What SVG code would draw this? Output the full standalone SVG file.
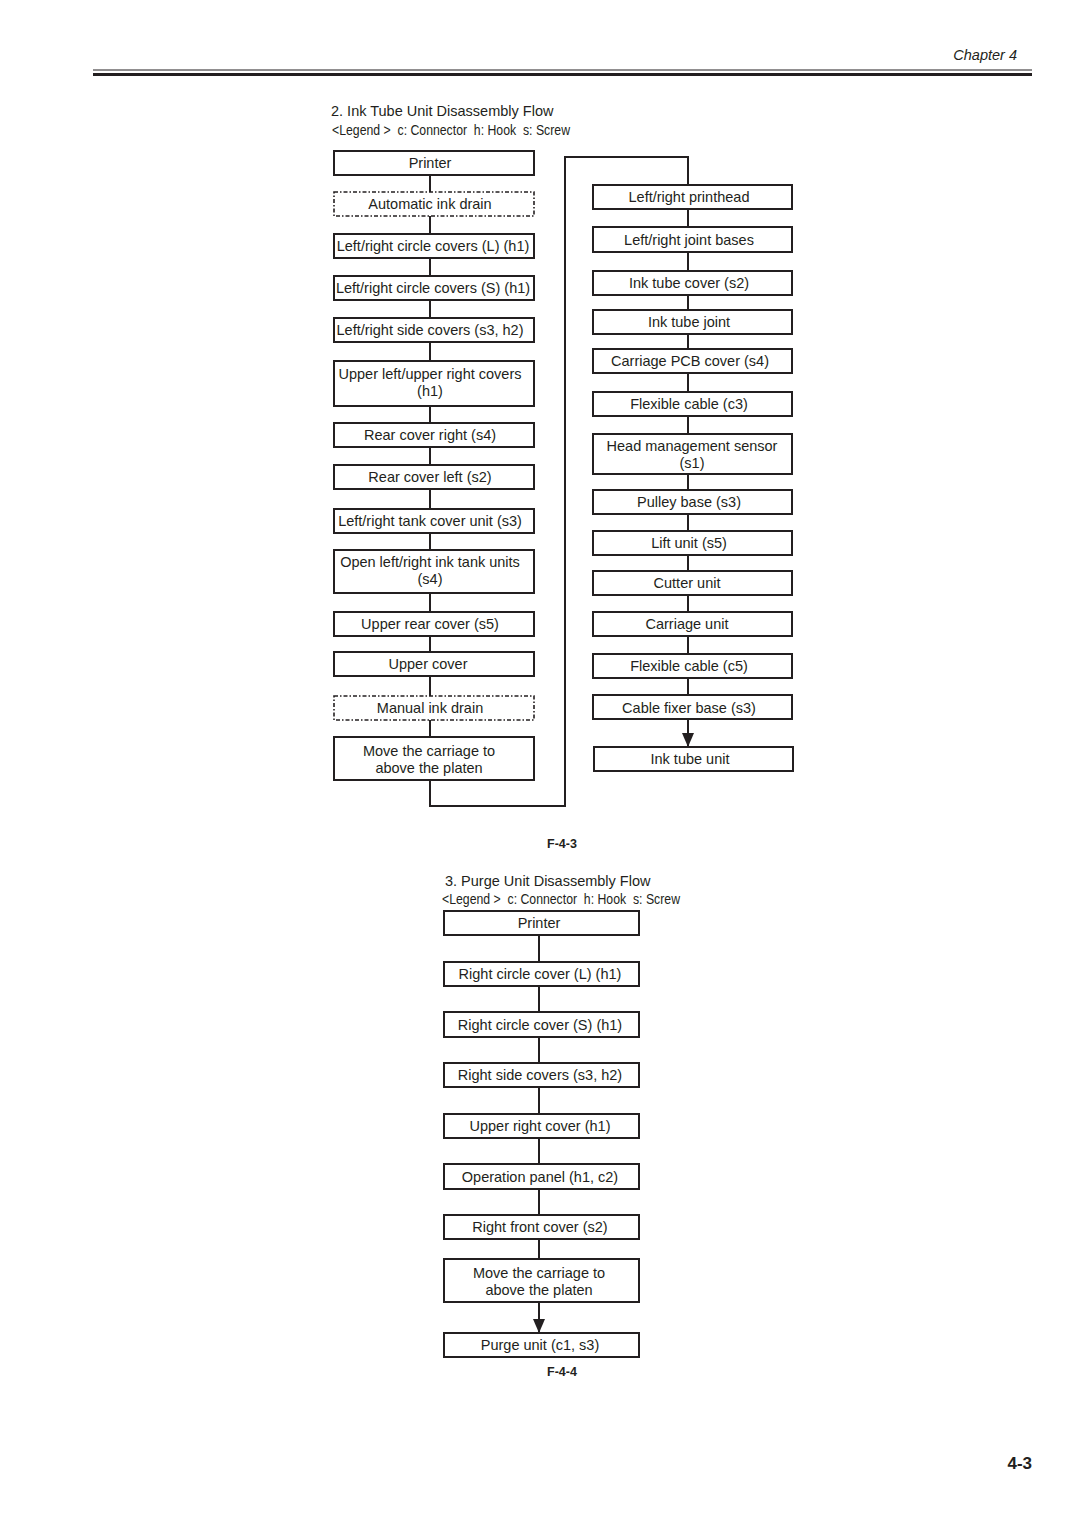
<svg xmlns="http://www.w3.org/2000/svg" width="1080" height="1528" viewBox="0 0 1080 1528">
<style>
text{font-family:"Liberation Sans",Arial,sans-serif;fill:#231f20}
.t{font-size:14.5px;text-anchor:middle}
.b{fill:#fff;stroke:#231f20;stroke-width:2}
.d{fill:#fff;stroke:#231f20;stroke-width:1.6;stroke-dasharray:4 2 1.5 2}
.c{fill:none;stroke:#231f20;stroke-width:2}
.lg{font-size:14px}
</style>
<defs>
<marker id="ah" markerWidth="14" markerHeight="12" refX="14" refY="6" orient="auto" markerUnits="userSpaceOnUse" viewBox="0 0 14 12">
<path d="M0,0 L14,6 L0,12 Z" fill="#231f20"/>
</marker>
</defs>
<rect width="1080" height="1528" fill="#fff"/>
<text x="1017" y="60" font-size="14.5" font-style="italic" text-anchor="end">Chapter 4</text>
<line x1="93" y1="70" x2="1032" y2="70" stroke="#231f20" stroke-width="1"/>
<line x1="93" y1="74.5" x2="1032" y2="74.5" stroke="#231f20" stroke-width="3"/>

<text x="331" y="116" font-size="14.5">2. Ink Tube Unit Disassembly Flow</text>
<text x="332" y="135" class="lg" xml:space="preserve" textLength="238" lengthAdjust="spacingAndGlyphs">&lt;Legend &gt;  c: Connector  h: Hook  s: Screw</text>

<g id="connectors">
<path class="c" d="M430,175 V192 M430,216 V234 M430,258 V276 M430,300 V318 M430,342 V361 M430,406 V423 M430,447 V465 M430,489 V509 M430,533 V550 M430,593 V612 M430,636 V652 M430,676 V696 M430,720 V737"/>
<path class="c" d="M430,780 V806 H565 V157 H688 V185"/>
<path class="c" d="M688,209 V227 M688,252 V271 M688,295 V310 M688,334 V349 M688,373 V392 M688,416 V434 M688,474 V490 M688,514 V531 M688,555 V571 M688,595 V612 M688,636 V654 M688,678 V695"/>
<path class="c" d="M688,719 V747" marker-end="url(#ah)"/>
<path class="c" d="M539,935 V962 M539,986 V1012 M539,1037 V1063 M539,1087 V1114 M539,1138 V1164 M539,1189 V1215 M539,1239 V1259"/>
<path class="c" d="M539,1302 V1333" marker-end="url(#ah)"/>
</g>

<g id="n1"><rect class="b" x="334" y="151" width="200" height="24"/><text class="t" x="430" y="168">Printer</text></g>
<g id="n2"><rect class="d" x="334" y="192" width="200" height="24"/><text class="t" x="430" y="209">Automatic ink drain</text></g>
<g id="n3"><rect class="b" x="334" y="234" width="200" height="24"/><text class="t" x="433" y="251">Left/right circle covers (L) (h1)</text></g>
<g id="n4"><rect class="b" x="334" y="276" width="200" height="24"/><text class="t" x="433" y="293">Left/right circle covers (S) (h1)</text></g>
<g id="n5"><rect class="b" x="334" y="318" width="200" height="24"/><text class="t" x="430" y="335">Left/right side covers (s3, h2)</text></g>
<g id="n6"><rect class="b" x="334" y="361" width="200" height="45"/><text class="t" x="430" y="379">Upper left/upper right covers</text><text class="t" x="430" y="396">(h1)</text></g>
<g id="n7"><rect class="b" x="334" y="423" width="200" height="24"/><text class="t" x="430" y="440">Rear cover right (s4)</text></g>
<g id="n8"><rect class="b" x="334" y="465" width="200" height="24"/><text class="t" x="430" y="482">Rear cover left (s2)</text></g>
<g id="n9"><rect class="b" x="334" y="509" width="200" height="24"/><text class="t" x="430" y="526">Left/right tank cover unit (s3)</text></g>
<g id="n10"><rect class="b" x="334" y="550" width="200" height="43"/><text class="t" x="430" y="567">Open left/right ink tank units</text><text class="t" x="430" y="584">(s4)</text></g>
<g id="n11"><rect class="b" x="334" y="612" width="200" height="24"/><text class="t" x="430" y="629">Upper rear cover (s5)</text></g>
<g id="n12"><rect class="b" x="334" y="652" width="200" height="24"/><text class="t" x="428" y="669">Upper cover</text></g>
<g id="n13"><rect class="d" x="334" y="696" width="200" height="24"/><text class="t" x="430" y="713">Manual ink drain</text></g>
<g id="n14"><rect class="b" x="334" y="737" width="200" height="43"/><text class="t" x="429" y="756">Move the carriage to</text><text class="t" x="429" y="773">above the platen</text></g>

<g id="r1"><rect class="b" x="593" y="185" width="199" height="24"/><text class="t" x="689" y="202">Left/right printhead</text></g>
<g id="r2"><rect class="b" x="593" y="227" width="199" height="25"/><text class="t" x="689" y="245">Left/right joint bases</text></g>
<g id="r3"><rect class="b" x="593" y="271" width="199" height="24"/><text class="t" x="689" y="288">Ink tube cover (s2)</text></g>
<g id="r4"><rect class="b" x="593" y="310" width="199" height="24"/><text class="t" x="689" y="327">Ink tube joint</text></g>
<g id="r5"><rect class="b" x="593" y="349" width="199" height="24"/><text class="t" x="690" y="366">Carriage PCB cover (s4)</text></g>
<g id="r6"><rect class="b" x="593" y="392" width="199" height="24"/><text class="t" x="689" y="409">Flexible cable (c3)</text></g>
<g id="r7"><rect class="b" x="593" y="434" width="199" height="40"/><text class="t" x="692" y="451">Head management sensor</text><text class="t" x="692" y="468">(s1)</text></g>
<g id="r8"><rect class="b" x="593" y="490" width="199" height="24"/><text class="t" x="689" y="507">Pulley base (s3)</text></g>
<g id="r9"><rect class="b" x="593" y="531" width="199" height="24"/><text class="t" x="689" y="548">Lift unit (s5)</text></g>
<g id="r10"><rect class="b" x="593" y="571" width="199" height="24"/><text class="t" x="687" y="588">Cutter unit</text></g>
<g id="r11"><rect class="b" x="593" y="612" width="199" height="24"/><text class="t" x="687" y="629">Carriage unit</text></g>
<g id="r12"><rect class="b" x="593" y="654" width="199" height="24"/><text class="t" x="689" y="671">Flexible cable (c5)</text></g>
<g id="r13"><rect class="b" x="593" y="695" width="199" height="24"/><text class="t" x="689" y="713">Cable fixer base (s3)</text></g>
<g id="r14"><rect class="b" x="594" y="747" width="199" height="24"/><text class="t" x="690" y="764">Ink tube unit</text></g>

<text x="562" y="848" font-size="12.5" font-weight="bold" text-anchor="middle">F-4-3</text>

<text x="445" y="886" font-size="14.5">3. Purge Unit Disassembly Flow</text>
<text x="442" y="904" class="lg" xml:space="preserve" textLength="238" lengthAdjust="spacingAndGlyphs">&lt;Legend &gt;  c: Connector  h: Hook  s: Screw</text>

<g id="p1"><rect class="b" x="444" y="911" width="195" height="24"/><text class="t" x="539" y="928">Printer</text></g>
<g id="p2"><rect class="b" x="444" y="962" width="195" height="24"/><text class="t" x="540" y="979">Right circle cover (L) (h1)</text></g>
<g id="p3"><rect class="b" x="444" y="1012" width="195" height="25"/><text class="t" x="540" y="1030">Right circle cover (S) (h1)</text></g>
<g id="p4"><rect class="b" x="444" y="1063" width="195" height="24"/><text class="t" x="540" y="1080">Right side covers (s3, h2)</text></g>
<g id="p5"><rect class="b" x="444" y="1114" width="195" height="24"/><text class="t" x="540" y="1131">Upper right cover (h1)</text></g>
<g id="p6"><rect class="b" x="444" y="1164" width="195" height="25"/><text class="t" x="540" y="1182">Operation panel (h1, c2)</text></g>
<g id="p7"><rect class="b" x="444" y="1215" width="195" height="24"/><text class="t" x="540" y="1232">Right front cover (s2)</text></g>
<g id="p8"><rect class="b" x="444" y="1259" width="195" height="43"/><text class="t" x="539" y="1278">Move the carriage to</text><text class="t" x="539" y="1295">above the platen</text></g>
<g id="p9"><rect class="b" x="444" y="1333" width="195" height="24"/><text class="t" x="540" y="1350">Purge unit (c1, s3)</text></g>

<text x="562" y="1376" font-size="12.5" font-weight="bold" text-anchor="middle">F-4-4</text>
<text x="1032" y="1469" font-size="17" font-weight="bold" text-anchor="end">4-3</text>
</svg>
